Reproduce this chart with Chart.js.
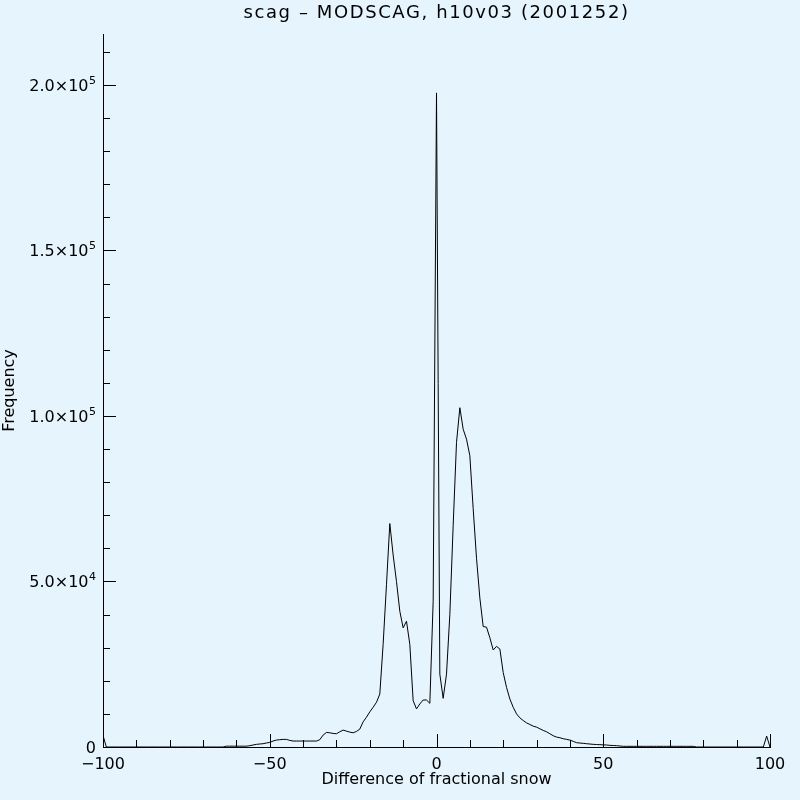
<!DOCTYPE html>
<html>
<head>
<meta charset="utf-8">
<title>scag – MODSCAG, h10v03 (2001252)</title>
<script src="https://cdn.jsdelivr.net/npm/chart.js@4.4.1/dist/chart.umd.min.js"></script>
<style>
    html, body { margin: 0; padding: 0; background: #e6f4fe; }
    #wrap { width: 800px; height: 800px; }
</style>
</head>
<body>
<div id="wrap"><canvas id="hist" width="800" height="800"></canvas></div>
<script>
// --- Histogram data (one bin per unit from -100 to 100) ---
const binFirst = -100;
const frequency = [
    3500,                                                   // -100
    0, 0, 0, 0, 0, 0, 0, 0, 0, 0,                           // -99 .. -90
    0, 0, 0, 0, 0, 0, 0, 0, 0, 0,                           // -89 .. -80
    0, 0, 0, 0, 0, 0, 0, 0, 0, 0,                           // -79 .. -70
    0, 0, 0, 0, 0, 0,                                       // -69 .. -64
    250, 250, 250, 250, 250, 250, 250,                      // -63 .. -57
    400, 600, 800, 900, 1000, 1200, 1400,                   // -56 .. -50
    1800, 2100, 2200, 2300, 2300, 2000, 1800, 1800, 1800, 1800, // -49 .. -40
    1800, 1800, 1800, 1800, 2200, 3600, 4400, 4300, 4100, 4000, // -39 .. -30
    4600, 5100, 4800, 4500, 4300, 4700, 5400, 7600, 9000, 10600, // -29 .. -20
    12000, 13500, 16000, 31000, 49000, 67500, 58000, 50000, 41000, 36000, // -19 .. -10
    38000, 31000, 14000, 11500, 13000, 14200, 14200, 13200, 44000, // -9 .. -1
    197600,                                                 // 0
    22000, 14700, 22000, 40000, 67000, 92000, 102500, 96000, 93000, 88000, // 1 .. 10
    72000, 57000, 45000, 36400, 36200, 33000, 29300, 30400, 29600, 22500, // 11 .. 20
    18000, 14500, 12000, 10000, 8800, 8000, 7300, 6800, 6300, 6000, // 21 .. 30
    5500, 5000, 4600, 4000, 3400, 3000, 2800, 2500, 2300, 2100, // 31 .. 40
    1700, 1300, 1200, 1100, 1000, 900, 800, 750, 700, 650,  // 41 .. 50
    600, 500, 450, 400, 300,                                // 51 .. 55
    200, 200, 200, 200, 200, 200, 200, 200, 200, 200,       // 56 .. 65
    200, 200, 200, 200, 200, 200, 200, 200, 200, 200,       // 66 .. 75
    200, 200,                                               // 76 .. 77
    0, 0, 0, 0, 0, 0, 0, 0, 0, 0,                           // 78 .. 87
    0, 0, 0, 0, 0, 0, 0, 0, 0, 0, 0,                        // 88 .. 98
    3300, 0                                                 // 99, 100
];

// --- Axes ---
const xMajorTicks = [-100, -50, 0, 50, 100];
const xMinorTicks = [-90, -80, -70, -60, -40, -30, -20, -10, 10, 20, 30, 40, 60, 70, 80, 90];
const yMajorTicks = [0, 50000, 100000, 150000, 200000];
// mantissa and power of ten for each y label ('' = plain label)
const yTickMantissa = ['0', '5.0×10', '1.0×10', '1.5×10', '2.0×10'];
const yTickExponent = ['', '4', '5', '5', '5'];
const yMinorTicks = [10000, 20000, 30000, 40000, 60000, 70000, 80000, 90000,
    110000, 120000, 130000, 140000, 160000, 170000, 180000, 190000, 210000];
const yMax = 215400;

const plotTitle = 'scag – MODSCAG, h10v03 (2001252)';
const xTitle = 'Difference of fractional snow';
const yTitle = 'Frequency';

const plotBg = '#e6f4fe';
const ink = '#000000';
const fontFamily = "'DejaVu Sans', sans-serif";
const labelFont = { family: fontFamily, size: 16 };

const points = frequency.map((f, i) => ({ x: binFirst + i, y: f }));

// background, inward tick marks, y labels with exponents and the title
const plotDecor = {
    id: 'plotDecor',
    beforeDraw(chart) {
        const { ctx, width, height } = chart;
        ctx.save();
        ctx.fillStyle = plotBg;
        ctx.fillRect(0, 0, width, height);
        ctx.restore();
    },
    afterDraw(chart) {
        const { ctx, chartArea, scales: { x, y } } = chart;
        ctx.save();
        ctx.strokeStyle = ink;
        ctx.lineWidth = 1;
        ctx.beginPath();
        const tickX = (v, len) => {
            const px = Math.round(x.getPixelForValue(v)) + 0.5;
            ctx.moveTo(px, chartArea.bottom);
            ctx.lineTo(px, chartArea.bottom - len);
        };
        const tickY = (v, len) => {
            const py = Math.round(y.getPixelForValue(v)) + 0.5;
            ctx.moveTo(chartArea.left, py);
            ctx.lineTo(chartArea.left + len, py);
        };
        xMajorTicks.forEach(v => tickX(v, 13));
        xMinorTicks.forEach(v => tickX(v, 7));
        yMajorTicks.forEach(v => tickY(v, 13));
        yMinorTicks.forEach(v => tickY(v, 7));
        ctx.stroke();

        // y tick labels: "m×10" with a raised exponent
        ctx.fillStyle = ink;
        ctx.textBaseline = 'alphabetic';
        ctx.textAlign = 'right';
        const labelRight = chartArea.left - 7;
        yMajorTicks.forEach((v, i) => {
            const base = y.getPixelForValue(v) + 6;
            let right = labelRight;
            if (yTickExponent[i]) {
                ctx.font = `11px ${fontFamily}`;
                ctx.fillText(yTickExponent[i], right, base - 7);
                right -= ctx.measureText(yTickExponent[i]).width + 0.5;
            }
            ctx.font = `16px ${fontFamily}`;
            ctx.fillText(yTickMantissa[i], right, base);
        });

        ctx.textAlign = 'center';
        ctx.font = `18px ${fontFamily}`;
        ctx.letterSpacing = '1.6px';
        ctx.fillText(plotTitle, (x.left + x.right) / 2, 18);
        ctx.restore();
    }
};

new Chart(document.getElementById('hist'), {
    type: 'scatter',
    data: {
        datasets: [{
            data: points,
            showLine: true,
            borderColor: ink,
            borderWidth: 1,
            pointRadius: 0,
            tension: 0
        }]
    },
    options: {
        responsive: false,
        animation: false,
        devicePixelRatio: 1,
        layout: { padding: { top: 34, right: 30, left: 0, bottom: 0 } },
        plugins: {
            legend: { display: false },
            tooltip: { enabled: false },
            title: { display: false }
        },
        scales: {
            x: {
                type: 'linear',
                min: -100,
                max: 100,
                afterBuildTicks: s => { s.ticks = xMajorTicks.map(v => ({ value: v })); },
                afterFit: s => { s.height = 53; },
                ticks: {
                    color: ink,
                    font: labelFont,
                    padding: 0,
                    maxRotation: 0,
                    autoSkip: false,
                    callback: v => v < 0 ? '−' + Math.abs(v) : String(v)
                },
                grid: { display: false },
                border: { display: true, color: ink, width: 1 },
                title: {
                    display: true,
                    text: xTitle,
                    color: ink,
                    font: labelFont,
                    padding: { top: 0, bottom: 11 }
                }
            },
            y: {
                type: 'linear',
                min: 0,
                max: yMax,
                afterBuildTicks: s => { s.ticks = yMajorTicks.map(v => ({ value: v })); },
                afterFit: s => { s.width = 103; },
                ticks: { display: false },
                grid: { display: false },
                border: { display: true, color: ink, width: 1 },
                title: {
                    display: true,
                    text: yTitle,
                    color: ink,
                    font: labelFont,
                    padding: { top: 0, bottom: 0 }
                }
            }
        }
    },
    plugins: [plotDecor]
});
</script>
</body>
</html>
